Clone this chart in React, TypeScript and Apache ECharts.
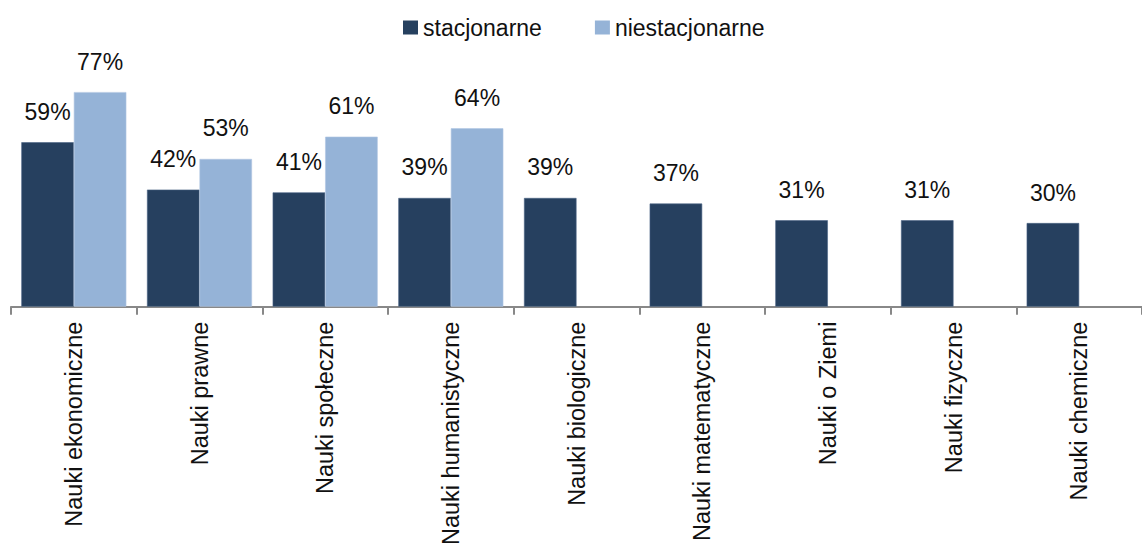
import React, { useEffect, useRef } from "react";
import * as echarts from "echarts";

const categories = [
  "Nauki ekonomiczne",
  "Nauki prawne",
  "Nauki społeczne",
  "Nauki humanistyczne",
  "Nauki biologiczne",
  "Nauki matematyczne",
  "Nauki o Ziemi",
  "Nauki fizyczne",
  "Nauki chemiczne",
];
const seriesNames = ["stacjonarne", "niestacjonarne"];
const stacjonarne = [59, 42, 41, 39, 39, 37, 31, 31, 30];
const niestacjonarne: (number | null)[] = [77, 53, 61, 64, null, null, null, null, null];

const FONT = "'Liberation Sans', Arial, sans-serif";

export default function App() {
  const ref = useRef<HTMLDivElement>(null);
  useEffect(() => {
    if (!ref.current) return;
    const chart = echarts.init(ref.current, undefined, { renderer: "svg" });
    const label = {
      show: true,
      position: "top",
      distance: 19,
      fontSize: 23,
      fontFamily: FONT,
      color: "#111",
      formatter: (p: any) => (p.value == null ? "" : p.value + "%"),
    };
    chart.setOption({
      animation: false,
      textStyle: { fontFamily: FONT },
      legend: {
        top: 11,
        left: 398,
        itemWidth: 15,
        itemHeight: 14,
        itemGap: 53,
        icon: "rect",
        itemStyle: { borderWidth: 0 },
        textStyle: { fontSize: 23, color: "#111", fontFamily: FONT },
        data: seriesNames,
      },
      grid: { left: 11, right: -3, top: 28, bottom: 241, containLabel: false },
      xAxis: {
        type: "category",
        data: categories,
        axisLine: { lineStyle: { color: "#888", width: 2 } },
        axisTick: { show: true, length: 8, lineStyle: { color: "#888", width: 2 } },
        axisLabel: {
          rotate: 90,
          margin: 15,
          fontSize: 23.5,
          color: "#111",
          fontFamily: FONT,
          interval: 0,
        },
      },
      yAxis: {
        type: "value",
        min: 0,
        max: 100,
        show: false,
        splitLine: { show: false },
      },
      series: [
        {
          name: seriesNames[0],
          type: "bar",
          data: stacjonarne,
          barWidth: 52.5,
          barGap: "0%",
          itemStyle: { color: "#26405F", borderColor: "#4A6384", borderWidth: 0.6 },
          label,
        },
        {
          name: seriesNames[1],
          type: "bar",
          data: niestacjonarne,
          barWidth: 52.5,
          barGap: "0%",
          itemStyle: { color: "#95B3D7", borderColor: "#B0C6E2", borderWidth: 0.6 },
          label,
        },
      ],
    });
    return () => chart.dispose();
  }, []);
  return (
    <div
      ref={ref}
      style={{ position: "fixed", left: 0, top: 0, width: 1142, height: 548, background: "#fff" }}
    />
  );
}
